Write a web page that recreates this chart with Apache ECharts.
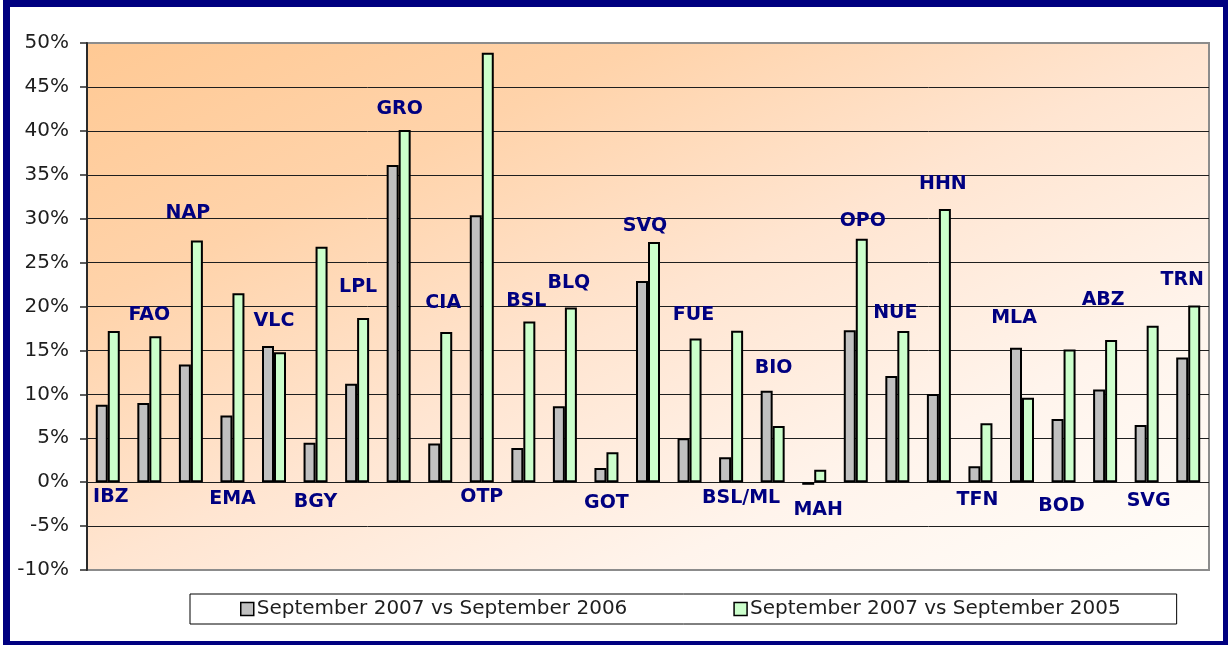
<!DOCTYPE html>
<html>
<head>
<meta charset="utf-8">
<title>Passenger growth by airport</title>
<script src="https://cdn.jsdelivr.net/npm/echarts@6/dist/echarts.min.js"></script>
<style>
	html, body { margin: 0; padding: 0; background: #fff; }
	#main { width: 1228px; height: 645px; }
</style>
</head>
<body>
<div id="main"></div>
<script>
// airports, in chart order
var categories = ['IBZ', 'FAO', 'NAP', 'EMA', 'VLC', 'BGY', 'LPL', 'GRO', 'CIA', 'OTP', 'BSL', 'BLQ', 'GOT', 'SVQ',
	'FUE', 'BSL/ML', 'BIO', 'MAH', 'OPO', 'NUE', 'HHN', 'TFN', 'MLA', 'BOD', 'ABZ', 'SVG', 'TRN'];

// growth in %
var vs2006 = [8.8, 9.0, 13.4, 7.6, 15.5, 4.5, 11.2, 36.1, 4.4, 30.4, 3.9, 8.65, 1.6, 22.9,
	5.0, 2.85, 10.4, -0.3, 17.3, 12.1, 10.05, 1.8, 15.3, 7.2, 10.55, 6.5, 14.2];
var vs2005 = [17.2, 16.6, 27.5, 21.5, 14.8, 26.8, 18.7, 40.1, 17.1, 48.9, 18.3, 19.9, 3.4, 27.35,
	16.35, 17.25, 6.4, 1.4, 27.7, 17.2, 31.1, 6.7, 9.6, 15.1, 16.2, 17.8, 20.1];

var seriesNames = ['September 2007 vs September 2006', 'September 2007 vs September 2005'];

// value axis
var yMin = -10;
var yMax = 50;
var yStep = 5;

window.onload = function(){
	buildChart();
};

/**
 * airport codes, written above or below the pair of bars
 */
function buildCodeLabels(){
	// 1 = code sits under the zero line
	var codeBelow = [1, 0, 0, 1, 0, 1, 0, 0, 0, 1, 0, 0, 1, 0, 0, 1, 0, 1, 0, 0, 0, 1, 0, 1, 0, 1, 0];
	// small hand placement, px
	var labelShift = [[3, -3], [0, 3], [-3, -4], [0, -1], [0, -1], [0, 2], [1, -7], [1, 3], [3, -5],
		[0, -3], [3, 4], [4, 0], [0, 3], [-3, 8], [4, 1], [10, -2], [1, 1], [4, 10], [7, 6], [-2, 6],
		[4, -1], [-3, 0], [-8, -6], [-2, 6], [-2, -16], [2, 1], [-6, -2]];

	var data = [];
	for(var i = 0; i < categories.length; i++){
		var below = codeBelow[i] == 1;
		var top = Math.max(vs2006[i], vs2005[i], 0);
		data.push({
			value: [categories[i], below ? 0 : top],
			label: {
				offset: [labelShift[i][0], labelShift[i][1] + (below ? 18 : -24)]
			}
		});
	}
	return data;
}

function buildChart(){
	var myChart = echarts.init(document.getElementById('main'), null, {renderer: 'canvas'});

	// split lines: grey at the frame edges, dark inside
	var splitColors = [];
	var n = (yMax - yMin) / yStep;
	for(var k = 0; k <= n; k++){
		splitColors.push((k == 0 || k == n) ? '#8c8c8c' : '#1e1e1e');
	}

	var option = {
		animation: false,
		backgroundColor: '#fff',
		grid: {
			left: 87,
			right: 19,
			top: 43,
			bottom: 75,
			show: true,
			borderColor: '#8c8c8c',
			borderWidth: 2,
			// corner to corner shading (end point skewed so the other two corners match)
			backgroundColor: {
				type: 'linear', x: 0, y: 0, x2: 0.3615, y2: 1.6385,
				colorStops: [
					{offset: 0, color: '#ffc994'},
					{offset: 0.25, color: '#ffd3aa'},
					{offset: 0.5, color: '#ffe5d1'},
					{offset: 0.75, color: '#fff4ec'},
					{offset: 1, color: '#fffdf9'}
				]
			}
		},
		legend: {
			data: seriesNames,
			icon: 'rect',
			left: 190,
			top: 594,
			padding: [5, 56, 5, 50],
			itemGap: 106,
			itemWidth: 13,
			itemHeight: 13,
			borderColor: '#000',
			borderWidth: 1,
			backgroundColor: '#fff',
			itemStyle: {borderColor: '#000', borderWidth: 1.5},
			textStyle: {
				fontFamily: 'DejaVu Sans',
				fontSize: 20,
				color: '#1e1e1e',
				padding: [0, 0, 0, -2]
			}
		},
		xAxis: {
			type: 'category',
			data: categories,
			axisLine: {show: false},
			axisTick: {show: false},
			axisLabel: {show: false},
			splitLine: {show: false}
		},
		yAxis: {
			type: 'value',
			min: yMin,
			max: yMax,
			interval: yStep,
			axisLine: {show: true, lineStyle: {color: '#2a2a2a', width: 2}},
			axisTick: {show: true, length: 7, lineStyle: {color: '#2a2a2a', width: 1.5}},
			axisLabel: {
				formatter: '{value}%',
				margin: 18,
				fontFamily: 'DejaVu Sans',
				fontSize: 20,
				color: '#1e1e1e'
			},
			splitLine: {show: true, lineStyle: {color: splitColors, width: 1}}
		},
		series: [{
			name: seriesNames[0],
			type: 'bar',
			data: vs2006,
			barWidth: 12,
			barGap: '0%',
			itemStyle: {color: '#c0c0c0', borderColor: '#000', borderWidth: 2}
		}, {
			name: seriesNames[1],
			type: 'bar',
			data: vs2005,
			barWidth: 12,
			itemStyle: {color: '#ccffcc', borderColor: '#000', borderWidth: 2}
		}, {
			name: 'codes',
			type: 'scatter',
			data: buildCodeLabels(),
			symbolSize: 1,
			silent: true,
			itemStyle: {color: 'rgba(0,0,0,0)', opacity: 1},
			label: {
				show: true,
				position: 'inside',
				formatter: function(p){ return p.value[0]; },
				fontFamily: 'DejaVu Sans',
				fontWeight: 'bold',
				fontSize: 19,
				color: '#000080'
			},
			z: 5
		}],
		// navy frame round the whole picture
		graphic: [{
			type: 'rect',
			shape: {x: 6.5, y: 3.5, width: 1220, height: 641},
			style: {fill: 'none', stroke: '#000080', lineWidth: 7},
			silent: true,
			z: 100
		}]
	};

	myChart.setOption(option);
}
</script>
</body>
</html>
